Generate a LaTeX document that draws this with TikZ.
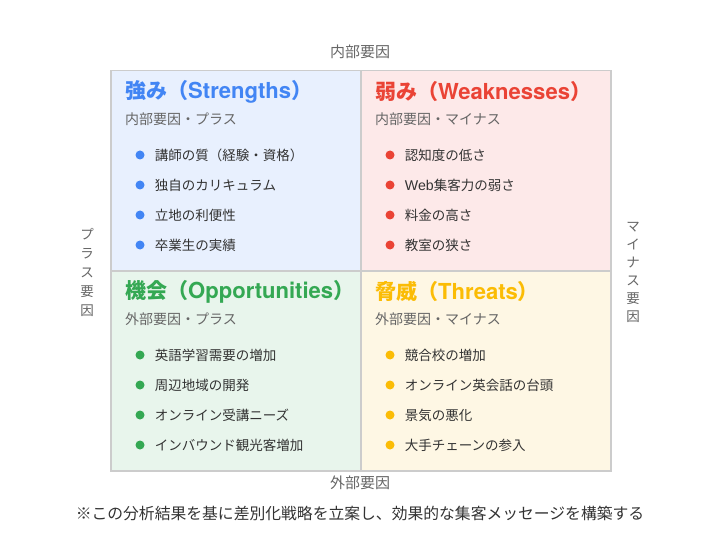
\documentclass[tikz,border=0pt]{standalone}
\usepackage{fontspec}
\setmainfont{Noto Sans CJK JP}
\newfontfamily\latinfont[Scale=1.05]{Liberation Sans}
\newfontfamily\latinbold[Scale=1.05]{TeX Gyre Heros}
\usepackage{xcolor}
\usetikzlibrary{positioning}

\definecolor{sblue}{HTML}{4285F4}
\definecolor{wred}{HTML}{EA4335}
\definecolor{ogreen}{HTML}{34A853}
\definecolor{tyellow}{HTML}{FBBC05}
\definecolor{sbg}{HTML}{E8F0FE}
\definecolor{wbg}{HTML}{FDE9E9}
\definecolor{obg}{HTML}{E8F5EC}
\definecolor{tbg}{HTML}{FEF7E4}
\definecolor{gridgray}{HTML}{CCCCCC}
\definecolor{subgray}{HTML}{666666}
\definecolor{textdark}{HTML}{333333}

\newcommand{\lat}[1]{{\latinfont #1}}
\newcommand{\latb}[1]{{\latinbold\bfseries #1}}

\begin{document}
\begin{tikzpicture}[
  x=1pt, y=-1pt,
  quad/.style={
    rectangle,
    draw=gridgray,
    line width=1.5pt,
    fill=#1,
    minimum width=250pt,
    minimum height=200pt,
    inner sep=0pt,
    anchor=north west
  },
  heading/.style={
    text=#1,
    font=\fontsize{21}{24}\selectfont\bfseries,
    inner sep=0pt,
    anchor=west
  },
  subline/.style={
    text=subgray,
    font=\fontsize{14}{16}\selectfont,
    inner sep=0pt,
    anchor=west
  },
  bullet/.style={
    circle,
    fill=#1,
    minimum size=9pt,
    inner sep=0pt
  },
  entry/.style={
    text=textdark,
    font=\fontsize{13.5}{16}\selectfont,
    inner sep=0pt,
    right=10pt of #1
  },
  axislabel/.style={
    text=subgray,
    font=\fontsize{15}{18.5}\selectfont,
    align=center,
    inner sep=0pt
  }
]

\useasboundingbox[fill=white] (0,0) rectangle (720,540);

% Four quadrants
\node[quad=sbg] (str) at (110,70) {};
\node[quad=wbg] (wea) at (360,70) {};
\node[quad=obg] (opp) at (110,270) {};
\node[quad=tbg] (thr) at (360,270) {};

% Headings
\node[heading=sblue] (str-title) at (125,92) {強み（\latb{Strengths}）};
\node[heading=wred] (wea-title) at (375,92) {弱み（\latb{Weaknesses}）};
\node[heading=ogreen] (opp-title) at (125,292) {機会（\latb{Opportunities}）};
\node[heading=tyellow] (thr-title) at (375,292) {脅威（\latb{Threats}）};

\node[subline] (str-sub) at (125,119) {内部要因・プラス};
\node[subline] (wea-sub) at (375,119) {内部要因・マイナス};
\node[subline] (opp-sub) at (125,319) {外部要因・プラス};
\node[subline] (thr-sub) at (375,319) {外部要因・マイナス};

% Bullet lists
\foreach \t [count=\i] in {講師の質（経験・資格）, 独自のカリキュラム, 立地の利便性, 卒業生の実績} {
  \node[bullet=sblue] (str-dot\i) at (140,125+30*\i) {};
  \node[entry=str-dot\i] (str-item\i) {\t};
}
\foreach \t [count=\i] in {認知度の低さ, \lat{Web}集客力の弱さ, 料金の高さ, 教室の狭さ} {
  \node[bullet=wred] (wea-dot\i) at (390,125+30*\i) {};
  \node[entry=wea-dot\i] (wea-item\i) {\t};
}
\foreach \t [count=\i] in {英語学習需要の増加, 周辺地域の開発, オンライン受講ニーズ, インバウンド観光客増加} {
  \node[bullet=ogreen] (opp-dot\i) at (140,325+30*\i) {};
  \node[entry=opp-dot\i] (opp-item\i) {\t};
}
\foreach \t [count=\i] in {競合校の増加, オンライン英会話の台頭, 景気の悪化, 大手チェーンの参入} {
  \node[bullet=tyellow] (thr-dot\i) at (390,325+30*\i) {};
  \node[entry=thr-dot\i] (thr-item\i) {\t};
}

% Axis labels
\node[axislabel] (top) at (360,52) {内部要因};
\node[axislabel] (bottom) at (360,483) {外部要因};
\node[axislabel, font=\fontsize{13.5}{19}\selectfont] (left) at (87,272) {プ\\ラ\\ス\\要\\因};
\node[axislabel, font=\fontsize{13.5}{18}\selectfont] (right) at (633,272) {マ\\イ\\ナ\\ス\\要\\因};

% Note
\node[text=textdark, font=\fontsize{15.8}{18}\selectfont, inner sep=0pt] (note) at (360,513)
  {※この分析結果を基に差別化戦略を立案し、効果的な集客メッセージを構築する};

\end{tikzpicture}
\end{document}
